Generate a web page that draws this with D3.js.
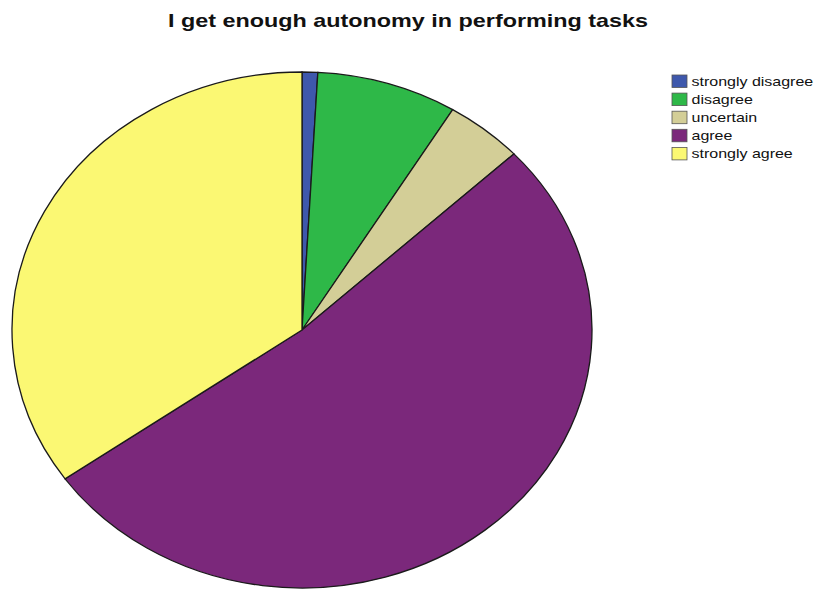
<!DOCTYPE html>
<html><head><meta charset="utf-8">
<script src="https://cdn.jsdelivr.net/npm/d3@7"></script>
<style>body{margin:0;background:#fff}svg{display:block}</style>
</head><body>
<svg id="c" width="817" height="589"></svg>
<script>
const title = "I get enough autonomy in performing tasks";
const categories = ["strongly disagree", "disagree", "uncertain", "agree", "strongly agree"];
const counts = [1, 9, 5, 60, 40];
const colors = ["#3e58ac", "#2eb848", "#d3ce97", "#7b287b", "#fbf873"];

const svg = d3.select("#c");
const cx = 302, cy = 330, rx = 290, ry = 258;
const stretch = 1.23;

svg.append("text").attr("transform", `translate(408,27) scale(${stretch},1)`)
  .attr("text-anchor", "middle")
  .attr("font-family", "Liberation Sans, Arial, sans-serif").attr("font-weight", "bold")
  .attr("font-size", 19).attr("fill", "#111").text(title);

const pie = d3.pie().sort(null).value(d => d)(counts);
const arc = d3.arc().innerRadius(0).outerRadius(rx);
const g = svg.append("g").attr("transform", `translate(${cx},${cy}) scale(1,${ry/rx})`);
g.selectAll("path").data(pie).join("path")
  .attr("d", arc).attr("fill", (d, i) => colors[i])
  .attr("stroke", "#1a1a1a").attr("stroke-width", 1.3)
  .attr("vector-effect", "non-scaling-stroke");

const leg = svg.append("g").attr("transform", "translate(672,75)");
const item = leg.selectAll("g").data(categories).join("g")
  .attr("transform", (d, i) => `translate(0,${i * 18.1})`);
item.append("rect").attr("width", 15).attr("height", 12.5)
  .attr("fill", (d, i) => colors[i]).attr("stroke", "#555").attr("stroke-width", 0.8);
item.append("text").attr("transform", `translate(19.5,11) scale(${stretch},1)`)
  .attr("font-family", "Liberation Sans, Arial, sans-serif").attr("font-size", 13)
  .attr("fill", "#111").text(d => d);
</script>
</body></html>
